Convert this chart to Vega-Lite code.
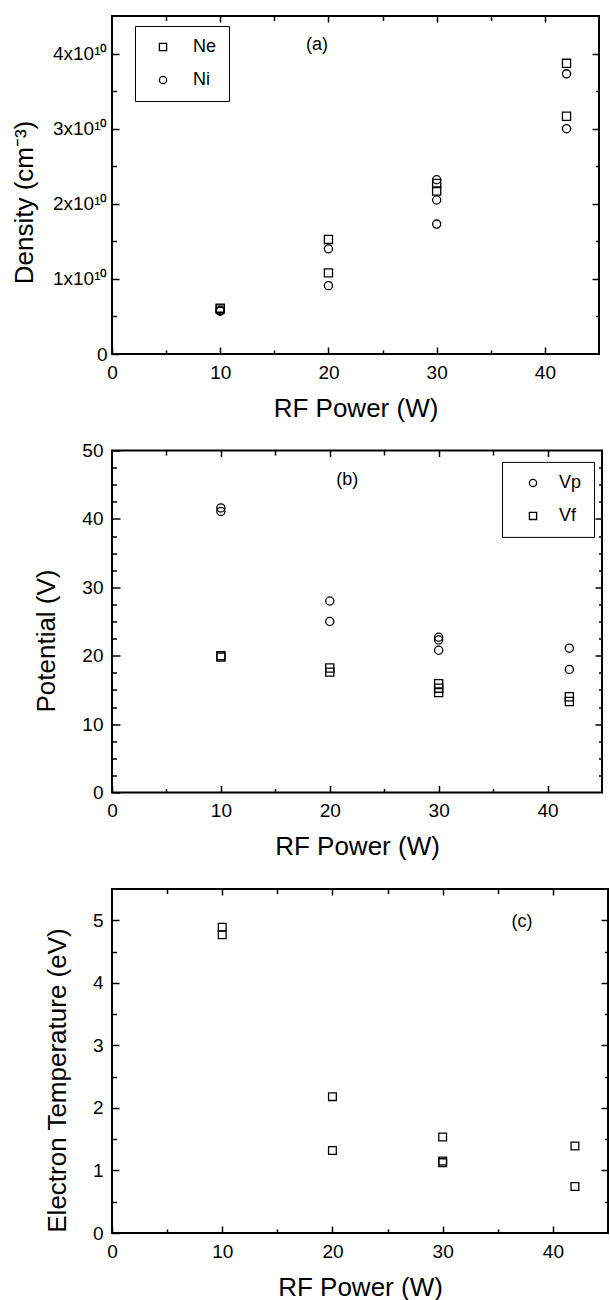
{
  "$schema": "https://vega.github.io/schema/vega-lite/v6.json",
  "background": "white",
  "padding": {"left": 10, "top": 14, "right": 0, "bottom": 0},
  "spacing": 96.5,
  "bounds": "flush",
  "config": {
    "view": {"stroke": "black", "strokeWidth": 2},
    "axis": {"domain": false, "grid": false, "tickColor": "black", "tickWidth": 1.5, "labelFont": "Liberation Sans", "labelFontSize": 19, "labelColor": "black", "titleFont": "Liberation Sans", "titleFontSize": 26, "titleFontWeight": "normal", "titleColor": "black", "labelFlush": false, "labelOverlap": false},
    "legend": {"labelFont": "Liberation Sans", "labelFontSize": 18, "labelColor": "black", "strokeColor": "black", "fillColor": "white", "padding": 12, "rowPadding": 15, "symbolStrokeColor": "black", "symbolFillColor": "transparent", "symbolStrokeWidth": 1.3, "symbolSize": 52},
    "text": {"font": "Liberation Sans"}
  },
  "datasets": {
    "density": [
      {"power": 10, "series": "Ne", "density": 6.1e9},
      {"power": 10, "series": "Ne", "density": 6.0e9},
      {"power": 20, "series": "Ne", "density": 1.525e10},
      {"power": 20, "series": "Ne", "density": 1.08e10},
      {"power": 30, "series": "Ne", "density": 2.27e10},
      {"power": 30, "series": "Ne", "density": 2.17e10},
      {"power": 42, "series": "Ne", "density": 3.87e10},
      {"power": 42, "series": "Ne", "density": 3.165e10},
      {"power": 10, "series": "Ni", "density": 5.8e9},
      {"power": 10, "series": "Ni", "density": 5.7e9},
      {"power": 20, "series": "Ni", "density": 1.40e10},
      {"power": 20, "series": "Ni", "density": 9.1e9},
      {"power": 30, "series": "Ni", "density": 2.32e10},
      {"power": 30, "series": "Ni", "density": 2.05e10},
      {"power": 30, "series": "Ni", "density": 1.73e10},
      {"power": 42, "series": "Ni", "density": 3.73e10},
      {"power": 42, "series": "Ni", "density": 3.0e10}
    ],
    "potential": [
      {"power": 10, "series": "Vp", "potential": 41.6},
      {"power": 10, "series": "Vp", "potential": 41.1},
      {"power": 20, "series": "Vp", "potential": 28.0},
      {"power": 20, "series": "Vp", "potential": 25.0},
      {"power": 30, "series": "Vp", "potential": 22.7},
      {"power": 30, "series": "Vp", "potential": 22.3},
      {"power": 30, "series": "Vp", "potential": 20.8},
      {"power": 42, "series": "Vp", "potential": 21.1},
      {"power": 42, "series": "Vp", "potential": 18.0},
      {"power": 10, "series": "Vf", "potential": 20.0},
      {"power": 10, "series": "Vf", "potential": 19.8},
      {"power": 20, "series": "Vf", "potential": 18.2},
      {"power": 20, "series": "Vf", "potential": 17.6},
      {"power": 30, "series": "Vf", "potential": 15.9},
      {"power": 30, "series": "Vf", "potential": 15.25},
      {"power": 30, "series": "Vf", "potential": 14.6},
      {"power": 42, "series": "Vf", "potential": 14.0},
      {"power": 42, "series": "Vf", "potential": 13.3}
    ],
    "temperature": [
      {"power": 10, "te": 4.89},
      {"power": 10, "te": 4.77},
      {"power": 20, "te": 2.18},
      {"power": 20, "te": 1.32},
      {"power": 30, "te": 1.535},
      {"power": 30, "te": 1.15},
      {"power": 30, "te": 1.125},
      {"power": 42, "te": 1.39},
      {"power": 42, "te": 0.745}
    ],
    "panelLabels": [
      {"panel": "a", "label": "(a)"},
      {"panel": "b", "label": "(b)"},
      {"panel": "c", "label": "(c)"}
    ]
  },
  "resolve": {"scale": {"shape": "independent"}, "legend": {"shape": "independent"}},
  "vconcat": [
    {
      "width": 487, "height": 338,
      "data": {"name": "density"},
      "resolve": {"axis": {"x": "independent", "y": "independent"}},
      "layer": [
        {
          "mark": {"type": "point", "filled": false, "color": "black", "strokeWidth": 1.3, "size": 66, "opacity": 1},
          "encoding": {
            "x": {"field": "power", "type": "quantitative", "scale": {"domain": [0, 45], "nice": false, "zero": false},
                  "axis": {"orient": "bottom", "values": [0, 10, 20, 30, 40], "tickSize": -7, "labelPadding": 16, "title": "RF Power (W)", "titleY": 62, "titleBaseline": "alphabetic"}},
            "y": {"field": "density", "type": "quantitative", "scale": {"domain": [0, 4.5e10], "nice": false, "zero": false},
                  "axis": {"orient": "left", "values": [0, 1e10, 2e10, 3e10, 4e10], "tickSize": -7, "labelPadding": 12, "labelExpr": "datum.value == 0 ? '0' : format(datum.value / 1e10, 'd') + 'x10¹⁰'", "title": "Density (cm⁻³)", "titleX": -80, "titleY": 186, "titleAngle": 270, "titleAlign": "center", "titleBaseline": "alphabetic"}},
            "shape": {"field": "series", "type": "nominal", "scale": {"domain": ["Ne", "Ni"], "range": ["square", "circle"]},
                      "legend": {"orient": "none", "legendX": 23, "legendY": 10, "title": null, "symbolOffset": 7, "labelOffset": 21}}
          }
        },
        {
          "mark": {"type": "point", "opacity": 0},
          "encoding": {
            "x": {"field": "power", "type": "quantitative", "scale": {"domain": [0, 45], "nice": false, "zero": false},
                  "axis": {"orient": "bottom", "values": [5, 15, 25, 35], "tickSize": -4, "labels": false, "title": null}},
            "y": {"field": "density", "type": "quantitative", "scale": {"domain": [0, 4.5e10], "nice": false, "zero": false},
                  "axis": {"orient": "left", "values": [5e9, 1.5e10, 2.5e10, 3.5e10], "tickSize": -4.5, "labels": false, "title": null}}
          }
        },
        {
          "mark": {"type": "point", "opacity": 0},
          "encoding": {
            "x": {"field": "power", "type": "quantitative", "scale": {"domain": [0, 45], "nice": false, "zero": false},
                  "axis": {"orient": "top", "values": [10, 20, 30, 40], "tickSize": -6, "labels": false, "title": null}},
            "y": {"field": "density", "type": "quantitative", "scale": {"domain": [0, 4.5e10], "nice": false, "zero": false},
                  "axis": {"orient": "right", "values": [1e10, 2e10, 3e10, 4e10], "tickSize": -7, "labels": false, "title": null}}
          }
        },
        {
          "mark": {"type": "point", "opacity": 0},
          "encoding": {
            "x": {"field": "power", "type": "quantitative", "scale": {"domain": [0, 45], "nice": false, "zero": false},
                  "axis": {"orient": "top", "values": [5, 15, 25, 35], "tickSize": -4.5, "labels": false, "title": null}},
            "y": {"field": "density", "type": "quantitative", "scale": {"domain": [0, 4.5e10], "nice": false, "zero": false},
                  "axis": {"orient": "right", "values": [5e9, 1.5e10, 2.5e10, 3.5e10], "tickSize": -3.5, "labels": false, "title": null}}
          }
        },
        {
          "data": {"name": "panelLabels"},
          "transform": [{"filter": "datum.panel == 'a'"}],
          "mark": {"type": "text", "fontSize": 18, "color": "black", "align": "center", "baseline": "middle"},
          "encoding": {
            "x": {"datum": 18.95, "type": "quantitative", "scale": {"domain": [0, 45], "nice": false, "zero": false}, "axis": null},
            "y": {"datum": 4.116e10, "type": "quantitative", "scale": {"domain": [0, 4.5e10], "nice": false, "zero": false}, "axis": null},
            "text": {"field": "label"}
          }
        }
      ]
    },
    {
      "width": 490, "height": 342,
      "data": {"name": "potential"},
      "resolve": {"axis": {"x": "independent", "y": "independent"}},
      "layer": [
        {
          "mark": {"type": "point", "filled": false, "color": "black", "strokeWidth": 1.3, "size": 66, "opacity": 1},
          "encoding": {
            "x": {"field": "power", "type": "quantitative", "scale": {"domain": [0, 45], "nice": false, "zero": false},
                  "axis": {"orient": "bottom", "values": [0, 10, 20, 30, 40], "tickSize": -7, "labelPadding": 16, "title": "RF Power (W)", "titleY": 62, "titleBaseline": "alphabetic"}},
            "y": {"field": "potential", "type": "quantitative", "scale": {"domain": [0, 50], "nice": false, "zero": false},
                  "axis": {"orient": "left", "values": [0, 10, 20, 30, 40, 50], "tickSize": -8, "labelPadding": 17, "title": "Potential (V)", "titleX": -58, "titleY": 190, "titleAngle": 270, "titleAlign": "center", "titleBaseline": "alphabetic"}},
            "shape": {"field": "series", "type": "nominal", "scale": {"domain": ["Vp", "Vf"], "range": ["circle", "square"]},
                      "legend": {"orient": "none", "legendX": 390, "legendY": 11.4, "title": null, "symbolOffset": 10, "labelOffset": 17}}
          }
        },
        {
          "mark": {"type": "point", "opacity": 0},
          "encoding": {
            "x": {"field": "power", "type": "quantitative", "scale": {"domain": [0, 45], "nice": false, "zero": false},
                  "axis": {"orient": "bottom", "values": [5, 15, 25, 35], "tickSize": -4, "labels": false, "title": null}},
            "y": {"field": "potential", "type": "quantitative", "scale": {"domain": [0, 50], "nice": false, "zero": false},
                  "axis": {"orient": "left", "values": [2.5, 5, 7.5, 12.5, 15, 17.5, 22.5, 25, 27.5, 32.5, 35, 37.5, 42.5, 45, 47.5], "tickSize": -4.5, "labels": false, "title": null}}
          }
        },
        {
          "mark": {"type": "point", "opacity": 0},
          "encoding": {
            "x": {"field": "power", "type": "quantitative", "scale": {"domain": [0, 45], "nice": false, "zero": false},
                  "axis": {"orient": "top", "values": [10, 20, 30, 40], "tickSize": -6, "labels": false, "title": null}},
            "y": {"field": "potential", "type": "quantitative", "scale": {"domain": [0, 50], "nice": false, "zero": false},
                  "axis": {"orient": "right", "values": [10, 20, 30, 40], "tickSize": -7, "labels": false, "title": null}}
          }
        },
        {
          "mark": {"type": "point", "opacity": 0},
          "encoding": {
            "x": {"field": "power", "type": "quantitative", "scale": {"domain": [0, 45], "nice": false, "zero": false},
                  "axis": {"orient": "top", "values": [5, 15, 25, 35], "tickSize": -4.5, "labels": false, "title": null}},
            "y": {"field": "potential", "type": "quantitative", "scale": {"domain": [0, 50], "nice": false, "zero": false},
                  "axis": {"orient": "right", "values": [2.5, 5, 7.5, 12.5, 15, 17.5, 22.5, 25, 27.5, 32.5, 35, 37.5, 42.5, 45, 47.5], "tickSize": -3.5, "labels": false, "title": null}}
          }
        },
        {
          "data": {"name": "panelLabels"},
          "transform": [{"filter": "datum.panel == 'b'"}],
          "mark": {"type": "text", "fontSize": 18, "color": "black", "align": "center", "baseline": "middle"},
          "encoding": {
            "x": {"datum": 21.6, "type": "quantitative", "scale": {"domain": [0, 45], "nice": false, "zero": false}, "axis": null},
            "y": {"datum": 45.7, "type": "quantitative", "scale": {"domain": [0, 50], "nice": false, "zero": false}, "axis": null},
            "text": {"field": "label"}
          }
        }
      ]
    },
    {
      "width": 496, "height": 344,
      "data": {"name": "temperature"},
      "resolve": {"axis": {"x": "independent", "y": "independent"}},
      "layer": [
        {
          "mark": {"type": "point", "shape": "square", "filled": false, "color": "black", "strokeWidth": 1.3, "size": 60, "opacity": 1},
          "encoding": {
            "x": {"field": "power", "type": "quantitative", "scale": {"domain": [0, 45], "nice": false, "zero": false},
                  "axis": {"orient": "bottom", "values": [0, 10, 20, 30, 40], "tickSize": -7, "labelPadding": 16, "title": "RF Power (W)", "titleY": 62, "titleBaseline": "alphabetic"}},
            "y": {"field": "te", "type": "quantitative", "scale": {"domain": [0, 5.5], "nice": false, "zero": false},
                  "axis": {"orient": "left", "values": [0, 1, 2, 3, 4, 5], "tickSize": -7, "labelPadding": 16, "title": "Electron Temperature (eV)", "titleX": -47, "titleY": 191, "titleAngle": 270, "titleAlign": "center", "titleBaseline": "alphabetic"}}
          }
        },
        {
          "mark": {"type": "point", "opacity": 0},
          "encoding": {
            "x": {"field": "power", "type": "quantitative", "scale": {"domain": [0, 45], "nice": false, "zero": false},
                  "axis": {"orient": "bottom", "values": [5, 15, 25, 35], "tickSize": -4, "labels": false, "title": null}},
            "y": {"field": "te", "type": "quantitative", "scale": {"domain": [0, 5.5], "nice": false, "zero": false},
                  "axis": {"orient": "left", "values": [0.5, 1.5, 2.5, 3.5, 4.5], "tickSize": -4.5, "labels": false, "title": null}}
          }
        },
        {
          "mark": {"type": "point", "opacity": 0},
          "encoding": {
            "x": {"field": "power", "type": "quantitative", "scale": {"domain": [0, 45], "nice": false, "zero": false},
                  "axis": {"orient": "top", "values": [10, 20, 30, 40], "tickSize": -6, "labels": false, "title": null}},
            "y": {"field": "te", "type": "quantitative", "scale": {"domain": [0, 5.5], "nice": false, "zero": false},
                  "axis": {"orient": "right", "values": [1, 2, 3, 4, 5], "tickSize": -7, "labels": false, "title": null}}
          }
        },
        {
          "mark": {"type": "point", "opacity": 0},
          "encoding": {
            "x": {"field": "power", "type": "quantitative", "scale": {"domain": [0, 45], "nice": false, "zero": false},
                  "axis": {"orient": "top", "values": [5, 15, 25, 35], "tickSize": -4.5, "labels": false, "title": null}},
            "y": {"field": "te", "type": "quantitative", "scale": {"domain": [0, 5.5], "nice": false, "zero": false},
                  "axis": {"orient": "right", "values": [0.5, 1.5, 2.5, 3.5, 4.5], "tickSize": -3.5, "labels": false, "title": null}}
          }
        },
        {
          "data": {"name": "panelLabels"},
          "transform": [{"filter": "datum.panel == 'c'"}],
          "mark": {"type": "text", "fontSize": 18, "color": "black", "align": "center", "baseline": "middle"},
          "encoding": {
            "x": {"datum": 37.2, "type": "quantitative", "scale": {"domain": [0, 45], "nice": false, "zero": false}, "axis": null},
            "y": {"datum": 4.98, "type": "quantitative", "scale": {"domain": [0, 5.5], "nice": false, "zero": false}, "axis": null},
            "text": {"field": "label"}
          }
        }
      ]
    }
  ]
}
